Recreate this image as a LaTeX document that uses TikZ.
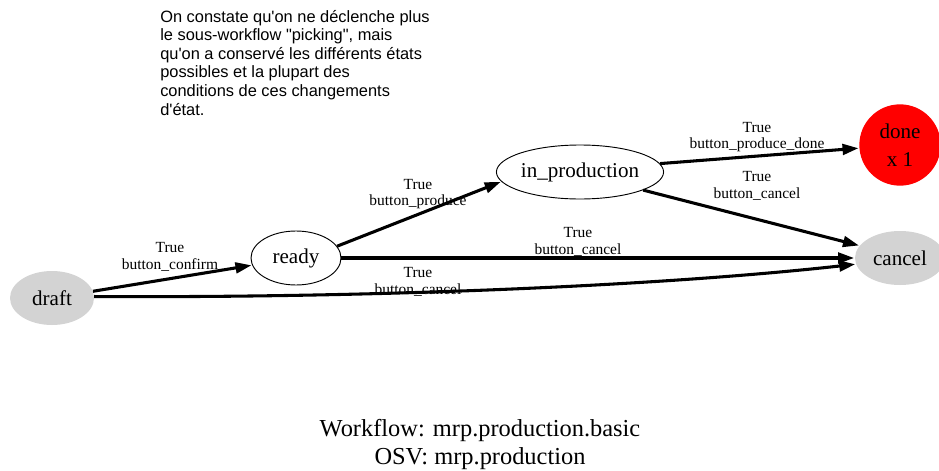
\documentclass[tikz,border=0pt]{standalone}
\usepackage{fontspec}
\setmainfont{Liberation Serif}
\newfontfamily\notefont{Liberation Sans}
\usetikzlibrary{arrows.meta,shapes.geometric}
\definecolor{stategray}{HTML}{D3D3D3}
\tikzset{
  state/.style={ellipse, minimum width=67.5pt, minimum height=40.5pt, inner sep=0pt,
    font=\fontsize{15.8}{18}\selectfont},
  grey state/.style={state, fill=stategray, draw=none},
  plain state/.style={state, draw=black, line width=0.7pt},
  trans/.style={line width=2.3pt, -{Triangle[length=12pt,width=8pt]}, shorten >=0.5pt},
  tlabel/.style={align=center, inner sep=0pt, font=\fontsize{11.6}{12.4}\selectfont}
}
\begin{document}
\begin{tikzpicture}[x=0.75pt,y=-0.75pt]
\useasboundingbox (0,0) rectangle (939,471);

% explanatory note
\node[anchor=north west, align=left, inner sep=0pt,
  font=\notefont\fontsize{12.3}{13.9}\selectfont] (note) at (160,10)
  {On constate qu'on ne déclenche plus\\
   le sous-workflow "picking", mais\\
   qu'on a conservé les différents états\\
   possibles et la plupart des\\
   conditions de ces changements\\
   d'état.};

% states
\node[grey state, minimum width=63pt] (draft) at (52,298) {draft};
\node[plain state] (ready) at (296,258) {ready};
\node[plain state, minimum width=123pt] (in_production) at (580,172) {in\_production};
\node[circle, fill=red, minimum size=61pt, inner sep=0pt, align=center,
  font=\fontsize{15.8}{21}\selectfont] (done) at (900,145) {done\\x 1};
\node[grey state] (cancel) at (900,258) {cancel};

% transitions
\draw[trans] (draft) -- (ready);
\draw[trans] (ready.16) -- (in_production.187);
\draw[trans] (ready) -- (cancel);
\draw[trans] (draft.2) .. controls (360,298) and (650,287) .. (cancel.188);
\draw[trans] (in_production.6) -- (done);
\draw[trans] (in_production.-16) -- (cancel.163);

% transition labels
\node[tlabel] (l_confirm) at (170,257) {True\\button\_confirm};
\node[tlabel] (l_produce) at (418,194) {True\\button\_produce};
\node[tlabel] (l_cancel_ready) at (578,242) {True\\button\_cancel};
\node[tlabel] (l_cancel_draft) at (418,282) {True\\button\_cancel};
\node[tlabel] (l_done) at (757,137) {True\\button\_produce\_done};
\node[tlabel] (l_cancel_prod) at (757,186) {True\\button\_cancel};

% caption
\node[align=center, inner sep=0pt, font=\fontsize{18.3}{21}\selectfont] (caption)
  at (480,445) {Workflow: mrp.production.basic\\OSV: mrp.production};
\end{tikzpicture}
\end{document}
